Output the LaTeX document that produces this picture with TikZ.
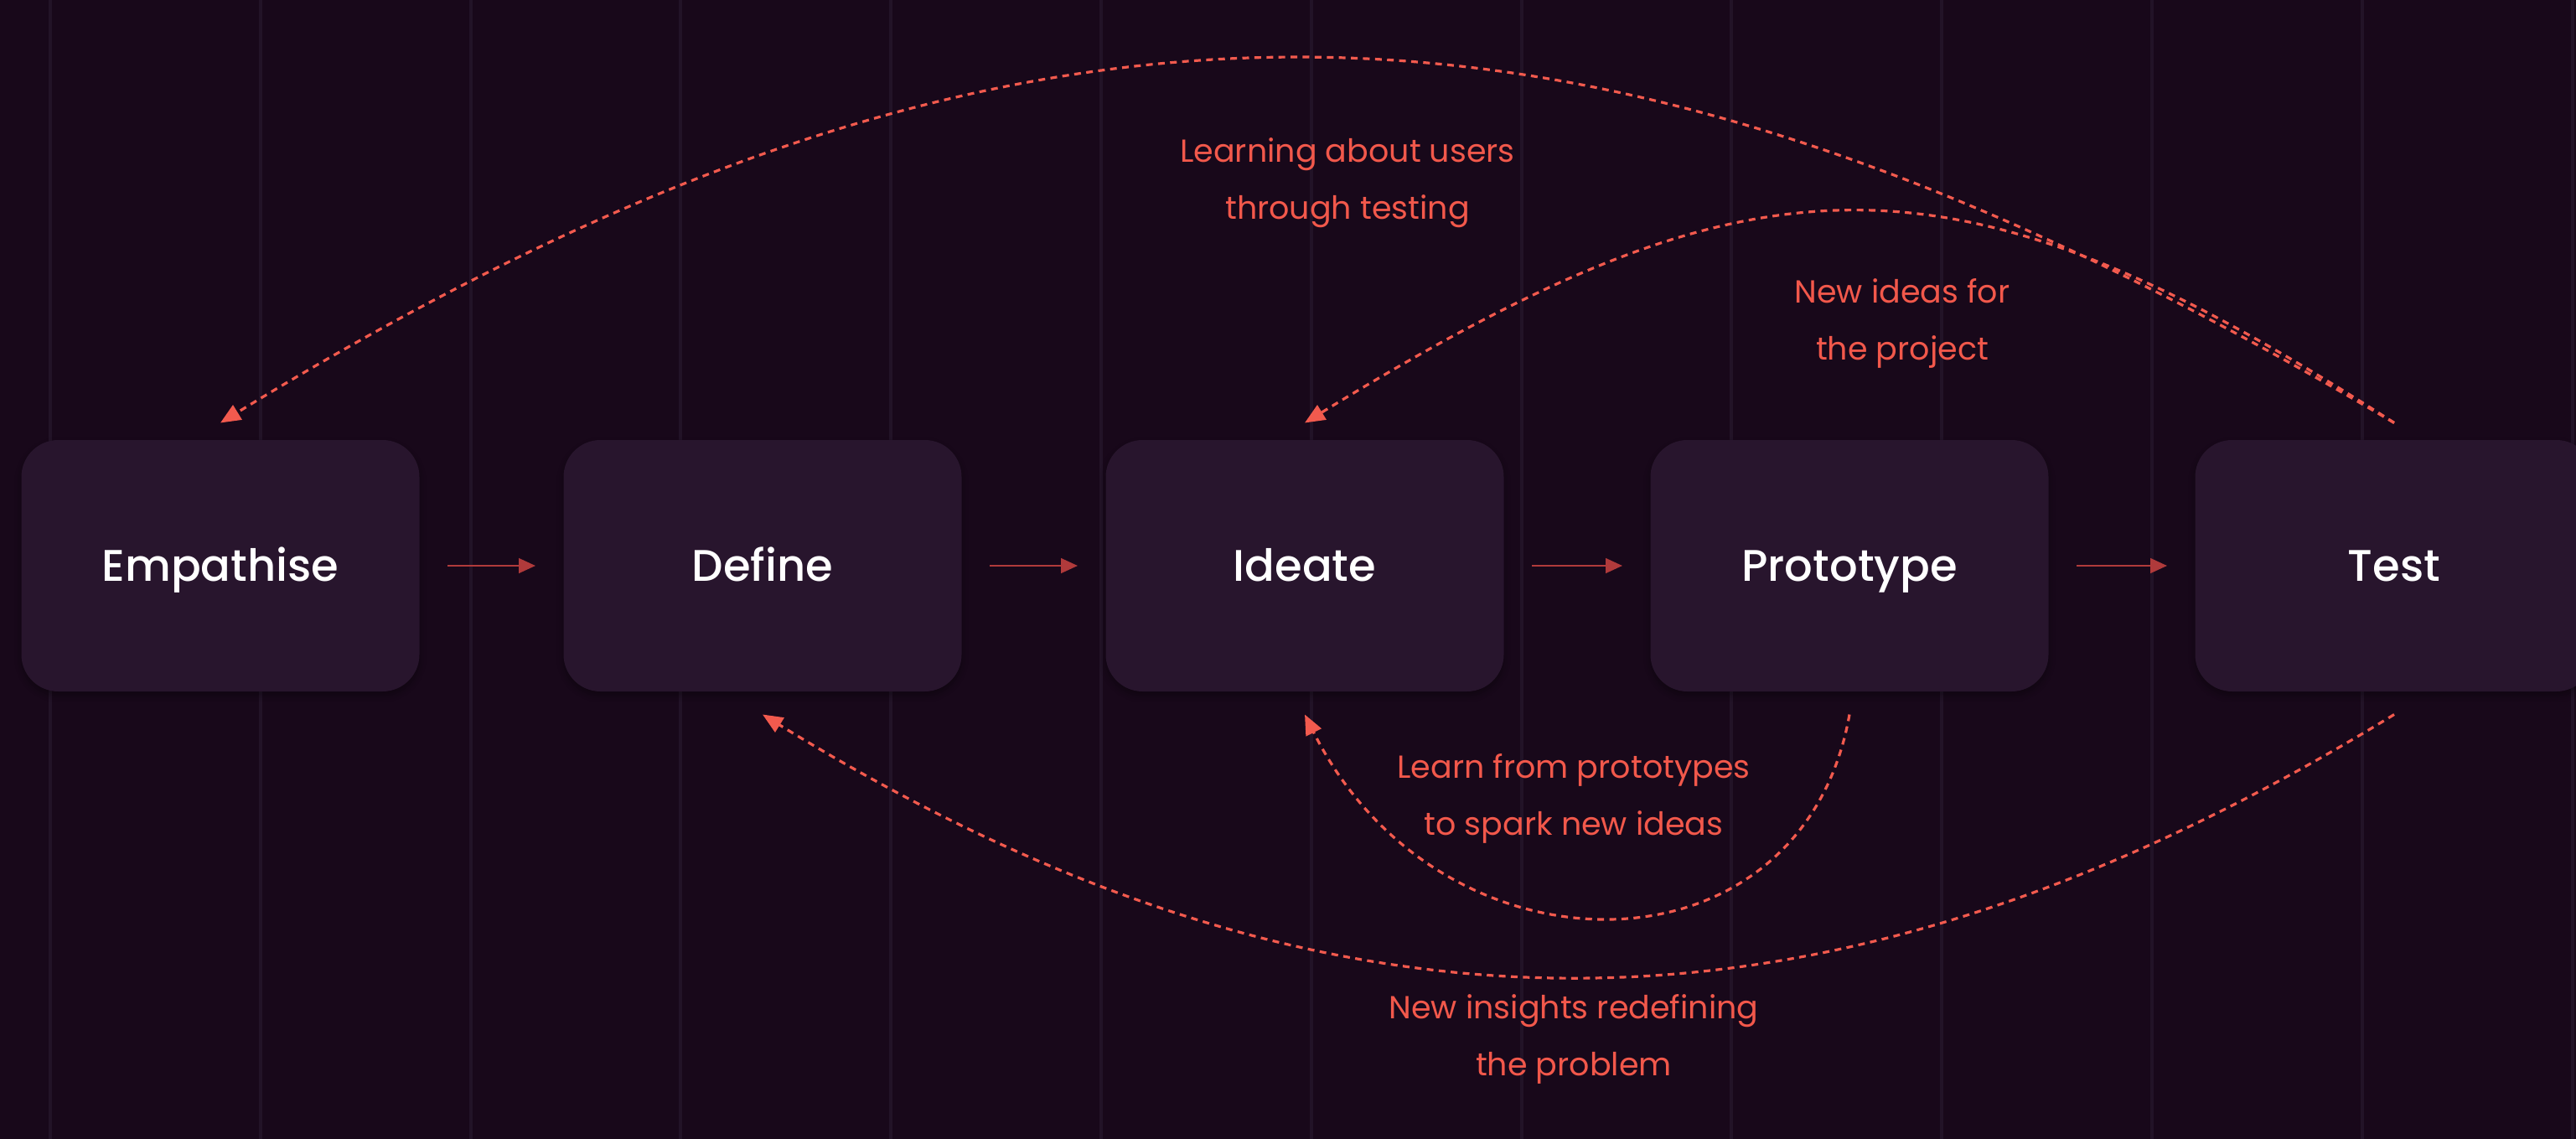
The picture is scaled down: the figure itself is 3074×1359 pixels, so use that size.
\documentclass[tikz,border=0pt]{standalone}
\usepackage{fontspec}
\setmainfont{Poppins}
\newfontfamily\stagefont{Poppins Medium}
\usetikzlibrary{arrows.meta,shadows.blur}

\definecolor{bgcol}{HTML}{18081A}
\definecolor{gridcol}{HTML}{221327}
\definecolor{boxcol}{HTML}{28152D}
\definecolor{flowcol}{HTML}{B03A3B}
\definecolor{loopcol}{HTML}{F25A4E}
\definecolor{notecol}{HTML}{F2584B}

\tikzset{every picture/.style={line width=0.75pt}}

\begin{document}
\begin{tikzpicture}[x=0.25pt,y=0.25pt,yscale=-1,xscale=1,
  stage/.style={fill=boxcol, rounded corners=11pt, minimum width=118.75pt, minimum height=75pt, inner sep=0pt, text height=11.3pt, text depth=2pt, text=white, font=\stagefont\fontsize{13.2}{16}\selectfont, blur shadow={shadow xshift=0pt, shadow yshift=-1.2pt, shadow blur radius=2pt, shadow opacity=35}},
  flow/.style={draw=flowcol, line width=0.7pt, -{Triangle[length=5pt,width=4.4pt]}, shorten <=8pt, shorten >=8pt},
  feedback/.style={draw=loopcol, line width=0.8pt, dash pattern=on 2pt off 1.6pt, -{Triangle[length=6pt,width=5pt]}},
  note/.style={text=notecol, font=\fontsize{9.5}{17}\selectfont, align=center, inner sep=0pt}]

\useasboundingbox (0,0) rectangle (3074,1359);

% background and faint column lines
\fill[bgcol] (0,0) rectangle (3074,1359);
\foreach \i in {0,...,12}
  \draw[gridcol, line width=1pt] ({60+250.8*\i},0) -- ({60+250.8*\i},1359);

% Stage boxes
\node[stage] (emp) at (263,675) {Empathise};
\node[stage] (def) at (910,675) {Define};
\node[stage] (ide) at (1557,675) {Ideate};
\node[stage] (pro) at (2207,675) {Prototype};
\node[stage] (tst) at (2857,675) {Test};

% Straight Lines between stages
\draw[flow] (emp.east) -- (def.west);
\draw[flow] (def.east) -- (ide.west);
\draw[flow] (ide.east) -- (pro.west);
\draw[flow] (pro.east) -- (tst.west);

% Dashed loops above (y axis is flipped, so negative yshift goes up)
\draw[feedback] ([yshift=-4.75pt]tst.north) .. controls (1920,-50) and (1250,-100) .. ([yshift=-4.75pt]emp.north);
\draw[feedback] ([yshift=-4.75pt]tst.north) .. controls (2330,165) and (2100,171) .. ([yshift=-4.75pt]ide.north);

% Dashed loops below
\draw[feedback] ([yshift=6.5pt]pro.south) .. controls (2150,1175) and (1718,1175) .. ([yshift=6.5pt]ide.south);
\draw[feedback] ([yshift=6.5pt]tst.south) .. controls (2176,1270) and (1588,1270) .. ([yshift=6.5pt]def.south);

% Text Node
\node[note] (learn) at (1608,218) {Learning about users\\through testing};
% Text Node
\node[note] (ideas) at (2270,386) {New ideas for\\the project};
% Text Node
\node[note] (spark) at (1878,953) {Learn from prototypes\\to spark new ideas};
% Text Node
\node[note] (insight) at (1878,1240) {New insights redefining\\the problem};

\end{tikzpicture}
\end{document}
